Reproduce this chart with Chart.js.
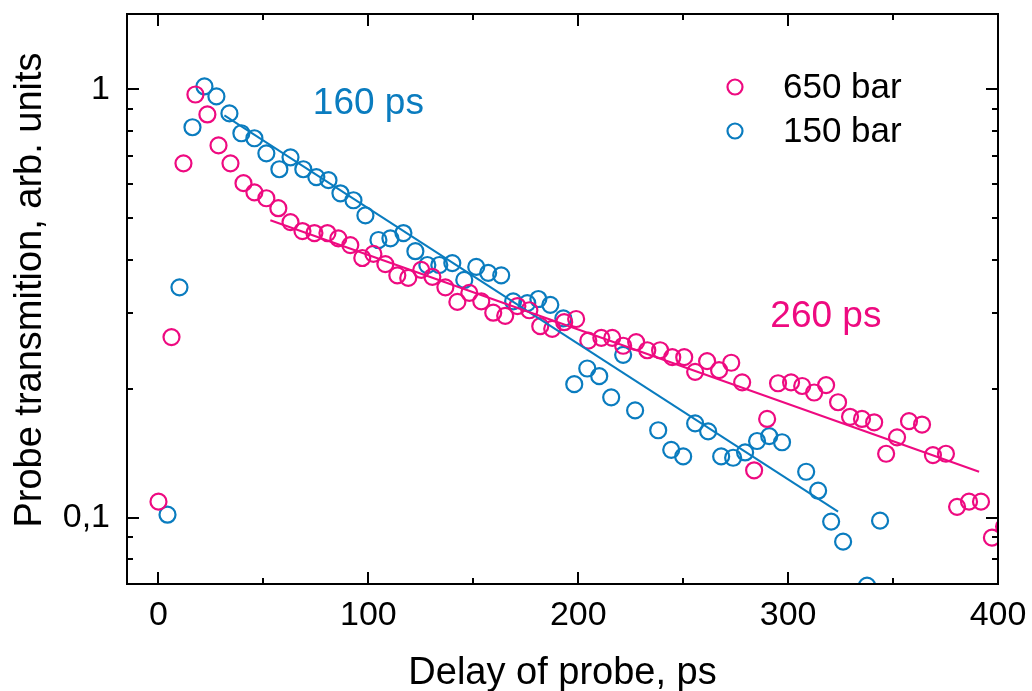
<!DOCTYPE html>
<html lang="en">
<head>
  <meta charset="UTF-8" />
  <title>Probe transmition vs delay</title>
  <script src="https://cdn.jsdelivr.net/npm/chart.js@4"></script>
  <style>
    html, body { margin: 0; padding: 0; background: #fff; }
  </style>
</head>
<body>
  <canvas id="chart" width="1032" height="691"></canvas>

  <script>
    // 650 bar series (ps, arb. units)
    const delay650 = [0, 6.2, 11.9, 17.6, 23.3, 28.6, 34.3, 40.5, 45.7, 51.4, 57.1, 62.9, 68.6, 74.3, 80.5, 85.7, 91.4, 97.1, 102.4, 108.1,
      113.8, 119.0, 125.2, 130.5, 136.7, 142.4, 148.1, 153.8, 159.5, 165.2, 171.0, 176.7, 181.9, 187.6, 193.3, 199.0, 204.8, 211.0, 216.2, 221.4,
      227.6, 232.9, 239.0, 244.8, 250.5, 255.7, 261.4, 267.1, 272.9, 278.1, 283.8, 290.0, 295.2, 301.4, 306.7, 312.4, 318.1, 323.8, 329.5, 335.2,
      341.0, 346.7, 351.9, 357.6, 363.8, 369.0, 375.2, 380.5, 386.2, 391.9, 397.1, 402.9];
    const trans650 = [0.109, 0.264, 0.672, 0.973, 0.874, 0.740, 0.672, 0.604, 0.575, 0.557, 0.528, 0.490, 0.467, 0.462, 0.462, 0.449, 0.433, 0.404, 0.413, 0.391,
      0.368, 0.363, 0.379, 0.365, 0.345, 0.319, 0.335, 0.320, 0.301, 0.296, 0.312, 0.305, 0.280, 0.276, 0.286, 0.291, 0.259, 0.263, 0.263, 0.252,
      0.257, 0.246, 0.246, 0.237, 0.237, 0.219, 0.232, 0.221, 0.230, 0.207, 0.129, 0.170, 0.206, 0.207, 0.203, 0.196, 0.204, 0.186, 0.172, 0.170,
      0.167, 0.141, 0.154, 0.168, 0.165, 0.140, 0.141, 0.106, 0.109, 0.109, 0.0898, 0.0953];

    // 150 bar series
    const delay150 = [4.3, 10.0, 16.2, 21.9, 27.6, 33.8, 39.5, 45.7, 51.4, 57.6, 62.9, 69.0, 75.2, 81.0, 86.7, 92.9, 98.6, 104.8, 110.5, 116.7,
      122.4, 128.1, 133.8, 140.0, 145.7, 151.4, 157.1, 163.3, 169.0, 175.7, 181.0, 186.7, 192.9, 198.1, 204.3, 210.0, 215.7, 221.4, 227.1, 238.1,
      244.3, 250.0, 255.7, 261.9, 268.1, 273.8, 279.5, 285.2, 291.0, 297.1, 308.6, 314.3, 320.5, 326.2, 337.6, 343.8];
    const trans150 = [0.1016, 0.345, 0.816, 1.016, 0.963, 0.879, 0.790, 0.769, 0.709, 0.651, 0.694, 0.651, 0.624, 0.614, 0.572, 0.551, 0.508, 0.445, 0.449, 0.462,
      0.419, 0.389, 0.389, 0.393, 0.359, 0.385, 0.373, 0.368, 0.320, 0.317, 0.324, 0.314, 0.292, 0.205, 0.223, 0.214, 0.191, 0.240, 0.178, 0.160,
      0.144, 0.139, 0.166, 0.159, 0.139, 0.138, 0.142, 0.151, 0.155, 0.150, 0.128, 0.1156, 0.0979, 0.0879, 0.0694, 0.0984];

    // exponential fits (end points, straight on log axis)
    const fit650Delay = [53.3, 391.0];
    const fit650Trans = [0.495, 0.128];
    const fit150Delay = [31.4, 323.8];
    const fit150Trans = [0.870, 0.1033];

    const seriesNames = ['650 bar', '150 bar'];
    const fitNames = ['260 ps', '160 ps'];

    const xTicks = [0, 100, 200, 300, 400];
    const xMinorTicks = [50, 150, 250, 350];
    const yTicks = [0.1, 1];
    const yTickLabels = ['0,1', '1'];
    const yMinorTicks = [0.08, 0.09, 0.2, 0.3, 0.4, 0.5, 0.6, 0.7, 0.8, 0.9];

    const PINK = '#ee0a80';
    const BLUE = '#0a7cbf';
    const FONT = "'Liberation Sans', Arial, sans-serif";

    const pts = (xs, ys) => xs.map((x, i) => ({ x, y: ys[i] }));

    // frame, inward ticks, legend, annotations and axis titles
    const decorations = {
      id: 'decorations',
      afterDatasetsDraw(chart) {
        const { ctx, chartArea: a, scales: { x, y } } = chart;
        ctx.save();
        ctx.strokeStyle = '#000';
        ctx.lineWidth = 2;
        const seg = (x1, y1, x2, y2) => { ctx.beginPath(); ctx.moveTo(x1, y1); ctx.lineTo(x2, y2); ctx.stroke(); };

        xTicks.concat(xMinorTicks).forEach(v => {
          const len = xTicks.includes(v) ? 12 : 6;
          const px = Math.round(x.getPixelForValue(v));
          seg(px, a.bottom, px, a.bottom - len);
          seg(px, a.top, px, a.top + len);
        });
        yTicks.concat(yMinorTicks).forEach(v => {
          const len = yTicks.includes(v) ? 12 : 6;
          const py = Math.round(y.getPixelForValue(v));
          seg(a.left, py, a.left + len, py);
          seg(a.right, py, a.right - len, py);
        });
        ctx.strokeRect(a.left, a.top, a.right - a.left, a.bottom - a.top);

        // fit labels
        ctx.font = `37px ${FONT}`;
        ctx.textAlign = 'center';
        ctx.textBaseline = 'middle';
        ctx.fillStyle = BLUE;
        ctx.fillText(fitNames[1], x.getPixelForValue(100), y.getPixelForValue(0.928));
        ctx.fillStyle = PINK;
        ctx.fillText(fitNames[0], x.getPixelForValue(318), y.getPixelForValue(0.294));

        // legend
        const colors = [PINK, BLUE];
        ctx.font = `35px ${FONT}`;
        ctx.textAlign = 'left';
        ctx.lineWidth = 2.2;
        seriesNames.forEach((name, i) => {
          const cy = 87 + i * 44;
          ctx.strokeStyle = colors[i];
          ctx.beginPath();
          ctx.arc(735, cy, 7.5, 0, Math.PI * 2);
          ctx.stroke();
          ctx.fillStyle = '#000';
          ctx.fillText(name, 783, cy + 1);
        });

        // axis titles
        ctx.font = `38px ${FONT}`;
        ctx.fillStyle = '#000';
        ctx.textAlign = 'center';
        ctx.textBaseline = 'alphabetic';
        ctx.fillText('Delay of probe, ps', (a.left + a.right) / 2, 684);
        ctx.translate(41, 290);
        ctx.rotate(-Math.PI / 2);
        ctx.fillText('Probe transmition, arb. units', 0, 0);
        ctx.restore();
      }
    };

    const marker = color => ({
      type: 'scatter',
      borderColor: color,
      backgroundColor: 'rgba(0,0,0,0)',
      pointRadius: 8,
      pointBorderWidth: 2.2,
      pointHoverRadius: 8,
      showLine: false
    });
    const fitLine = color => ({
      type: 'line',
      borderColor: color,
      borderWidth: 2,
      pointRadius: 0,
      fill: false
    });

    const noPadding = s => { s.paddingTop = 0; s.paddingBottom = 0; s.paddingLeft = 0; s.paddingRight = 0; };

    new Chart(document.getElementById('chart'), {
      type: 'scatter',
      data: {
        datasets: [
          { ...fitLine(PINK), label: fitNames[0], data: pts(fit650Delay, fit650Trans) },
          { ...fitLine(BLUE), label: fitNames[1], data: pts(fit150Delay, fit150Trans) },
          { ...marker(PINK), label: seriesNames[0], data: pts(delay650, trans650) },
          { ...marker(BLUE), label: seriesNames[1], data: pts(delay150, trans150) }
        ]
      },
      options: {
        responsive: false,
        animation: false,
        layout: { padding: { top: 14, right: 34, left: 0, bottom: 0 } },
        plugins: {
          legend: { display: false },
          tooltip: { enabled: false }
        },
        scales: {
          x: {
            type: 'linear',
            min: -15,
            max: 400,
            grid: { display: false, drawTicks: false },
            border: { display: false },
            afterBuildTicks: s => { s.ticks = xTicks.map(v => ({ value: v })); },
            afterFit: s => { s.height = 107; noPadding(s); },
            ticks: {
              padding: 11,
              color: '#000',
              font: { family: FONT, size: 34 },
              maxRotation: 0,
              autoSkip: false
            }
          },
          y: {
            type: 'logarithmic',
            min: 0.07,
            max: 1.5,
            grid: { display: false, drawTicks: false },
            border: { display: false },
            afterBuildTicks: s => { s.ticks = yTicks.map(v => ({ value: v })); },
            afterFit: s => { s.width = 127; noPadding(s); },
            ticks: {
              padding: 17,
              color: '#000',
              font: { family: FONT, size: 34 },
              autoSkip: false,
              callback: v => yTickLabels[yTicks.indexOf(v)] ?? ''
            }
          }
        }
      },
      plugins: [decorations]
    });
  </script>
</body>
</html>
